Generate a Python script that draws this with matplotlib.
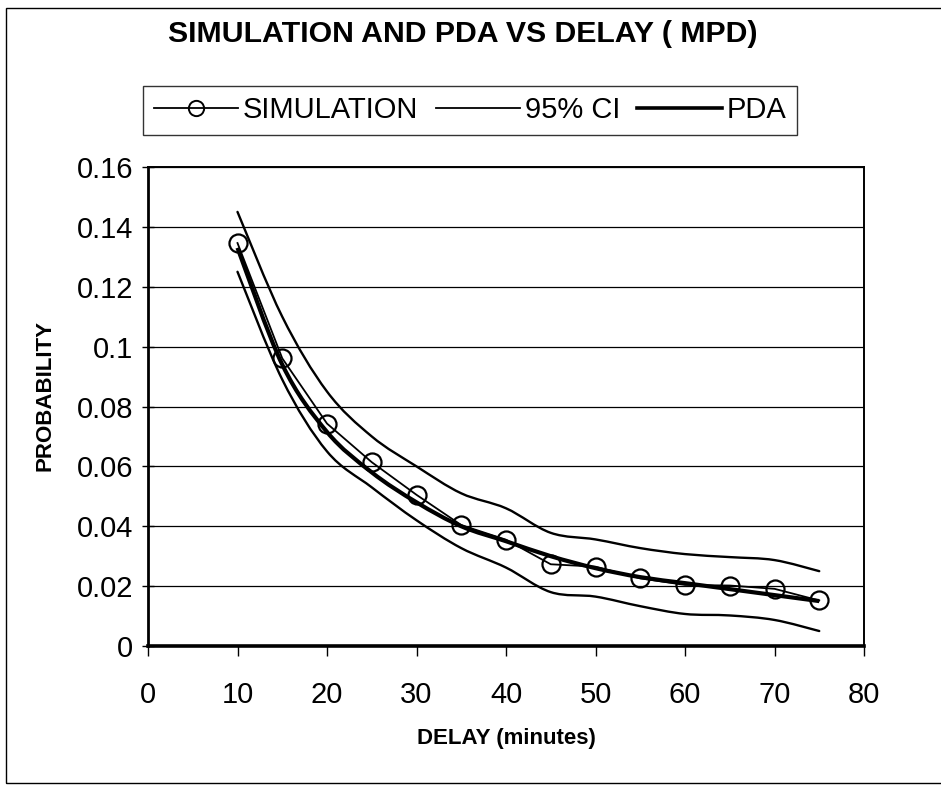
import numpy as np
import matplotlib
matplotlib.use("Agg")
import matplotlib.pyplot as plt
from matplotlib.path import Path
from matplotlib.patches import PathPatch, Rectangle
from matplotlib.lines import Line2D

delay = [10, 15, 20, 25, 30, 35, 40, 45, 50, 55, 60, 65, 70, 75]
simulation = [0.1346, 0.0961, 0.0743, 0.0614, 0.0505, 0.0404, 0.0355,
              0.0273, 0.0265, 0.0226, 0.0204, 0.0202, 0.0191, 0.0152]
pda = [0.133, 0.094, 0.0715, 0.058, 0.048, 0.040, 0.035,
       0.030, 0.026, 0.023, 0.021, 0.019, 0.017, 0.015]
ci_upper = [0.145, 0.110, 0.085, 0.070, 0.060, 0.051, 0.046,
            0.0378, 0.0356, 0.0327, 0.0307, 0.0297, 0.0287, 0.025]
ci_lower = [0.125, 0.089, 0.065, 0.053, 0.042, 0.0327, 0.0262,
            0.018, 0.0165, 0.0133, 0.0107, 0.0102, 0.0087, 0.005]

FONT = ["Liberation Sans", "Arial", "DejaVu Sans"]
plt.rcParams["font.family"] = FONT


def smooth_path(x, y):
    # Excel-style smoothed line: Catmull-Rom segments as cubic Beziers
    x = np.asarray(x, float); y = np.asarray(y, float)
    verts = [(x[0], y[0])]; codes = [Path.MOVETO]
    n = len(x)
    for i in range(n - 1):
        p0 = (x[max(i - 1, 0)], y[max(i - 1, 0)])
        p1 = (x[i], y[i]); p2 = (x[i + 1], y[i + 1])
        p3 = (x[min(i + 2, n - 1)], y[min(i + 2, n - 1)])
        c1 = (p1[0] + (p2[0] - p0[0]) / 6, p1[1] + (p2[1] - p0[1]) / 6)
        c2 = (p2[0] - (p3[0] - p1[0]) / 6, p2[1] - (p3[1] - p1[1]) / 6)
        verts += [c1, c2, p2]; codes += [Path.CURVE4] * 3
    return Path(verts, codes)


fig = plt.figure(figsize=(9.41, 7.87), dpi=100)
fig.patches.append(Rectangle((6 / 941, 4 / 787), 1.0, 1 - 12 / 787, transform=fig.transFigure,
                             fill=False, lw=1.0, ec="black"))
ax = fig.add_axes([148 / 941, 1 - 646 / 787, (864 - 148) / 941, (646 - 167) / 787])

ax.set_xlim(0, 80); ax.set_ylim(0, 0.16)
ax.set_xticks(range(0, 81, 10))
ax.set_yticks(np.arange(0, 0.161, 0.02))
ax.set_yticklabels(["0", "0.02", "0.04", "0.06", "0.08", "0.1", "0.12", "0.14", "0.16"])
ax.yaxis.grid(True, color="black", lw=0.9)
ax.set_axisbelow(True)
ax.tick_params(axis="x", direction="out", length=7, width=1, labelsize=21, pad=18)
ax.tick_params(axis="y", direction="inout", length=9, width=1, labelsize=21, pad=6)
for s, w in zip(["left", "bottom", "top", "right"], [2.0, 2.6, 1.4, 1.4]):
    ax.spines[s].set_linewidth(w)

for ci in (ci_upper, ci_lower):
    ax.add_patch(PathPatch(smooth_path(delay, ci), fill=False, lw=1.7, ec="black", capstyle="round"))
ax.add_patch(PathPatch(smooth_path(delay, pda), fill=False, lw=3.0, ec="black"))
ax.plot(delay, simulation, color="black", lw=1.3, marker="o", ms=13, mfc="none",
        mec="black", mew=1.6)

ax.set_xlabel("DELAY (minutes)", fontsize=16, fontweight="bold", labelpad=14)
ax.set_ylabel("PROBABILITY", fontsize=16, fontweight="bold", va="center")
ax.yaxis.set_label_coords(-0.144, 0.524)
fig.text(0.492, 1 - 34 / 787, "SIMULATION AND PDA VS DELAY ( MPD)", ha="center", va="center",
         fontsize=21.8, fontweight="bold")

handles = [Line2D([], [], color="black", lw=1.3, marker="o", ms=11, mfc="none", mew=1.4),
           Line2D([], [], color="black", lw=1.3),
           Line2D([], [], color="black", lw=2.6)]
leg = fig.legend(handles, ["SIMULATION", "95% CI", "PDA"], ncol=3, loc="center",
                 bbox_to_anchor=(470 / 941, 1 - 110 / 787), fontsize=21, frameon=True,
                 fancybox=False, edgecolor="black", handlelength=2.9, handletextpad=0.15,
                 columnspacing=0.6, borderpad=0.36, borderaxespad=0)
leg.get_frame().set_linewidth(1.0)

fig.savefig("out.png", dpi=100)
